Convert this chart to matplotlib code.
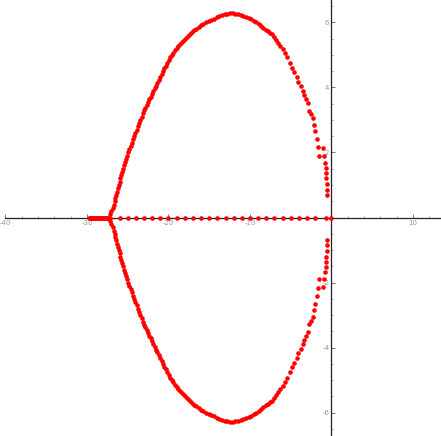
import numpy as np
import matplotlib
matplotlib.use("Agg")
import matplotlib.pyplot as plt
from matplotlib.ticker import MultipleLocator, FixedLocator

# Complex branch (upper half); lower half is its conjugate
upper_x = [-27.25, -27.12, -26.99, -26.86, -26.73, -26.60, -26.50, -26.40, -26.30, -26.20,
           -26.10, -26.00, -25.90, -25.80, -25.70, -25.60, -25.47, -25.34, -25.21, -25.08,
           -24.95, -24.80, -24.65, -24.50, -24.35, -24.20, -24.05, -23.90, -23.75, -23.60,
           -23.45, -23.30, -23.15, -23.00,
           -22.85, -22.68, -22.52, -22.36, -22.20, -22.03, -21.87, -21.70, -21.53, -21.35,
           -21.18, -21.00, -20.83, -20.66, -20.49, -20.32, -20.15, -19.98, -19.82, -19.61,
           -19.41, -19.20, -19.00, -18.80, -18.59,
           -18.35, -18.11, -17.87, -17.63, -17.39, -17.15, -16.87, -16.58, -16.30, -16.01,
           -15.73, -15.40, -15.07, -14.74, -14.42, -14.09, -13.76, -13.43, -13.10, -12.78,
           -12.45,
           -12.12, -11.79, -11.46, -11.13, -10.80, -10.48, -10.16, -9.85, -9.54, -9.24,
           -8.94, -8.65, -8.36, -8.07, -7.80, -7.57,
           -7.34, -7.06, -6.81, -6.53, -6.32, -5.99, -5.71, -5.42, -5.09, -4.81,
           -4.56, -4.27, -4.07, -3.78, -3.53, -3.34, -3.13, -2.92, -2.72, -2.55,
           -2.31, -2.11, -1.99, -1.82, -1.66, -1.50]
upper_y = [0.00, 0.10, 0.20, 0.30, 0.40, 0.50, 0.60, 0.70, 0.80, 0.90,
           1.00, 1.10, 1.20, 1.30, 1.40, 1.50, 1.60, 1.70, 1.80, 1.90,
           2.00, 2.10, 2.20, 2.30, 2.40, 2.50, 2.60, 2.70, 2.80, 2.90,
           3.00, 3.10, 3.20, 3.30,
           3.38, 3.46, 3.55, 3.63, 3.72, 3.81, 3.90, 3.98, 4.06, 4.15,
           4.24, 4.33, 4.42, 4.50, 4.59, 4.67, 4.76, 4.85, 4.93, 5.00,
           5.07, 5.14, 5.21, 5.28, 5.34,
           5.41, 5.47, 5.53, 5.59, 5.65, 5.70, 5.76, 5.81, 5.86, 5.91,
           5.96, 6.00, 6.04, 6.08, 6.12, 6.16, 6.19, 6.22, 6.25, 6.27,
           6.28,
           6.28, 6.27, 6.25, 6.23, 6.21, 6.18, 6.14, 6.10, 6.05, 6.01,
           5.95, 5.90, 5.84, 5.78, 5.73, 5.68,
           5.63, 5.55, 5.47, 5.36, 5.28, 5.17, 5.07, 4.93, 4.75, 4.61,
           4.47, 4.32, 4.18, 4.03, 3.89, 3.78, 3.63, 3.52, 3.29, 3.19,
           3.05, 2.86, 2.65, 2.42, 2.16, 1.88]

# Branch close to the imaginary axis (upper half)
near_x = [-1.01, -0.92, -0.76, -0.71, -0.67, -0.64, -0.59, -0.59, -0.55]
near_y = [2.13, 1.89, 1.68, 1.52, 1.36, 1.20, 1.04, 0.86, 0.68]

# Real-axis roots
real_x = [-27.2, -26, -25, -24, -23, -22, -21, -20, -19, -18, -17, -16, -15, -14,
          -13, -12, -11, -10, -9, -8, -7, -6, -5, -4, -3, -2, -0.7, 0]
band_x = [-29.75, -29.65, -29.55, -29.45, -29.35, -29.25, -29.15, -29.05, -28.95,
          -28.85, -28.75, -28.65, -28.55, -28.45, -28.35, -28.25, -28.15, -28.05,
          -27.95, -27.85, -27.75, -27.65, -27.55, -27.45, -27.35]

x_major = [-40, -30, -20, -10, 10]
y_major = [-6, -4, -2, 2, 4, 6]

fig = plt.figure(figsize=(4.41, 4.36), dpi=100)
ax = fig.add_axes([0, 0, 1, 1])

mk = dict(ls="none", marker="o", ms=3.3, mec="none", mfc="#ff0000", zorder=3, clip_on=False)

ax.plot(upper_x, upper_y, **mk)
ax.plot(upper_x, np.negative(upper_y), **mk)
ax.plot(near_x, near_y, **mk)
ax.plot(near_x, np.negative(near_y), **mk)
ax.plot(real_x, np.zeros(len(real_x)), **mk)
ax.plot(band_x, np.zeros(len(band_x)), **mk)

ax.set_xlim(-40.67, 13.44)
ax.set_ylim(-6.72, 6.69)

# Mathematica-like axes through the origin
for s in ["top", "right"]:
    ax.spines[s].set_visible(False)
ax.spines["bottom"].set_position(("data", 0))
ax.spines["left"].set_position(("data", 0))
ax.spines["bottom"].set_bounds(-40, 13.44)
for s in ["bottom", "left"]:
    ax.spines[s].set_linewidth(0.9)
    ax.spines[s].set_color("#222222")
    ax.spines[s].set_zorder(2)

ax.xaxis.set_major_locator(FixedLocator(x_major))
ax.yaxis.set_major_locator(FixedLocator(y_major))
ax.xaxis.set_minor_locator(MultipleLocator(2))
ax.yaxis.set_minor_locator(MultipleLocator(0.5))

ax.tick_params(which="major", direction="in", length=2.6, width=0.5, color="#444444",
               labelsize=5, labelcolor="#999999", pad=1.5)
ax.tick_params(which="minor", direction="in", length=1.4, width=0.4, color="#666666")

ax.set_xticklabels([str(v) for v in x_major])
ax.set_yticklabels([str(v) for v in y_major])

fig.savefig("out.png", dpi=100)
